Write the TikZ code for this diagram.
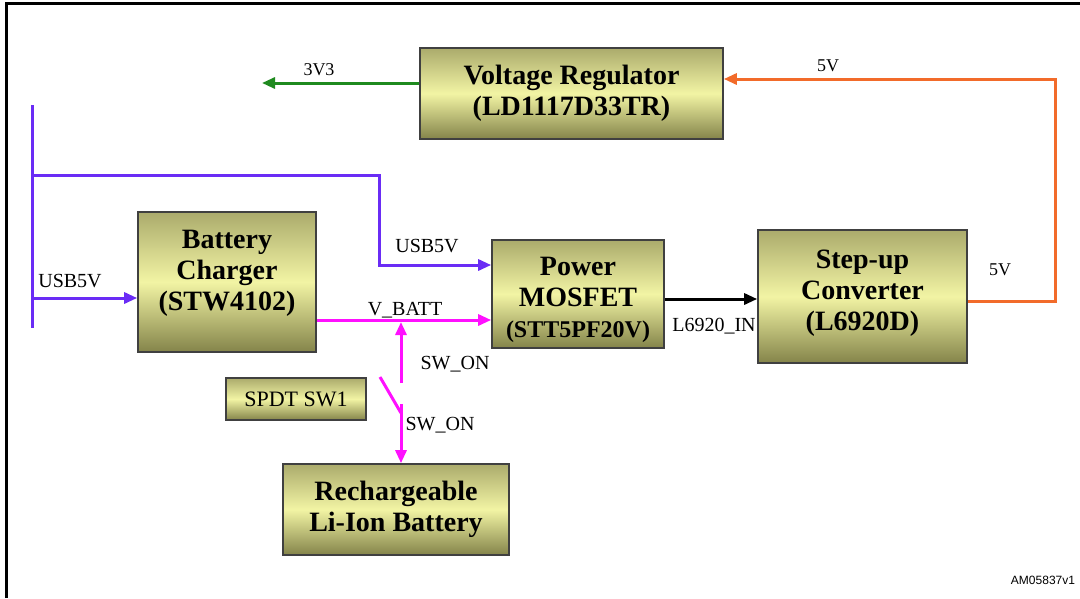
\documentclass[tikz,border=0pt]{standalone}
\usepackage{fontspec}
\setmainfont{Liberation Serif}
\newfontfamily\labelsans{Liberation Sans}
\usetikzlibrary{arrows.meta}
\definecolor{olivetop}{HTML}{ABAB6C}
\definecolor{olivemid}{HTML}{F2F4A4}
\definecolor{olivebot}{HTML}{84844A}
\definecolor{usbblue}{HTML}{6A2CF5}
\definecolor{vbatt}{HTML}{FF10FF}
\definecolor{orng}{HTML}{F26B2A}
\definecolor{grn}{HTML}{1F8A1F}
\tikzset{
  blk/.style={draw=black!75, line width=1.6pt, top color=olivetop, bottom color=olivebot, middle color=olivemid,
    align=center, inner sep=0pt, font=\fontsize{28}{31}\selectfont\bfseries},
  wire/.style={line width=3pt},
  tip/.style={-{Triangle[length=13pt,width=11pt]}},
  lbl/.style={font=\fontsize{20}{22}\selectfont, inner sep=0pt},
  lblsm/.style={font=\fontsize{18}{20}\selectfont, inner sep=0pt},
}
\begin{document}
\begin{tikzpicture}[x=1pt,y=-1pt]
\useasboundingbox (0,0) rectangle (1080,598);
\draw[line width=3pt] (6,598) -- (6,3) -- (1080,3);

% blocks
\node[blk, minimum width=303pt, minimum height=91pt] (reg) at (571.5,93.5) {Voltage Regulator\\(LD1117D33TR)};
\node[blk, minimum width=178pt, minimum height=140pt] (chg) at (227,282) {Battery\\Charger\\(STW4102)\\[-7pt]\mbox{}};
\node[blk, minimum width=172pt, minimum height=108pt] (mos) at (578,294) {\mbox{}\\[0pt]Power\\MOSFET\\{\fontsize{24}{26}\selectfont(STT5PF20V)}};
\node[blk, minimum width=209pt, minimum height=133pt] (stp) at (862.5,296.5) {Step-up\\Converter\\(L6920D)\\[-18pt]\mbox{}};
\node[blk, minimum width=140pt, minimum height=42pt, font=\fontsize{22}{24}\selectfont] (sw) at (296,399) {SPDT SW1};
\node[blk, minimum width=226pt, minimum height=91pt] (bat) at (396,509.5) {Rechargeable\\Li-Ion Battery};

% coordinates
\coordinate (g3) at (262,83);
\coordinate (o1) at (1055,301);
\coordinate (o2) at (1055,79);
\coordinate (ptop) at (32,105);
\coordinate (pbot) at (32,328);
\coordinate (p1) at (32,175);
\coordinate (p2) at (379,175);
\coordinate (p3) at (379,265);
\coordinate (p4) at (32,298);
\coordinate (m1) at (0,320);
\coordinate (s1) at (401,383);
\coordinate (s2) at (401,322);
\coordinate (d1) at (380,377);
\coordinate (d2) at (401,413);
\coordinate (s3) at (401,404);
\coordinate (b1) at (0,299);

% green 3V3
\draw[wire, grn, tip] (reg.west |- g3) -- (g3);
% orange 5V
\draw[wire, orng, tip] (stp.east |- o1) -- (o1) -- (o2) -- (reg.east |- o2);
% purple USB5V
\draw[wire, usbblue] (ptop) -- (pbot);
\draw[wire, usbblue, tip] (p1) -- (p2) -- (p3) -- (mos.west |- p3);
\draw[wire, usbblue, tip] (p4) -- (chg.west |- p4);
% magenta
\draw[wire, vbatt, tip] (chg.east |- m1) -- (mos.west |- m1);
\draw[wire, vbatt, tip] (s1) -- (s2);
\draw[wire, vbatt] (d1) -- (d2);
\draw[wire, vbatt, tip] (s3) -- (bat.north -| s3);
% black
\draw[wire, black, tip] (mos.east |- b1) -- (stp.west |- b1);

% labels
\node[lblsm] (l3v3) at (319,70) {3V3};
\node[lblsm] (l5va) at (828,66) {5V};
\node[lbl] (lusba) at (70,281) {USB5V};
\node[lbl] (lusbb) at (427,246) {USB5V};
\node[lbl] (lvb) at (405,310) {V\_BATT};
\node[lbl] (lsw1) at (455,364) {SW\_ON};
\node[lbl] (lsw2) at (440,425) {SW\_ON};
\node[lbl] (lin) at (714,326) {L6920\_IN};
\node[lblsm] (l5vb) at (1000,270) {5V};
\node[font=\labelsans\fontsize{12}{14}\selectfont, inner sep=0pt] (am) at (1043,580) {AM05837v1};
\end{tikzpicture}
\end{document}
